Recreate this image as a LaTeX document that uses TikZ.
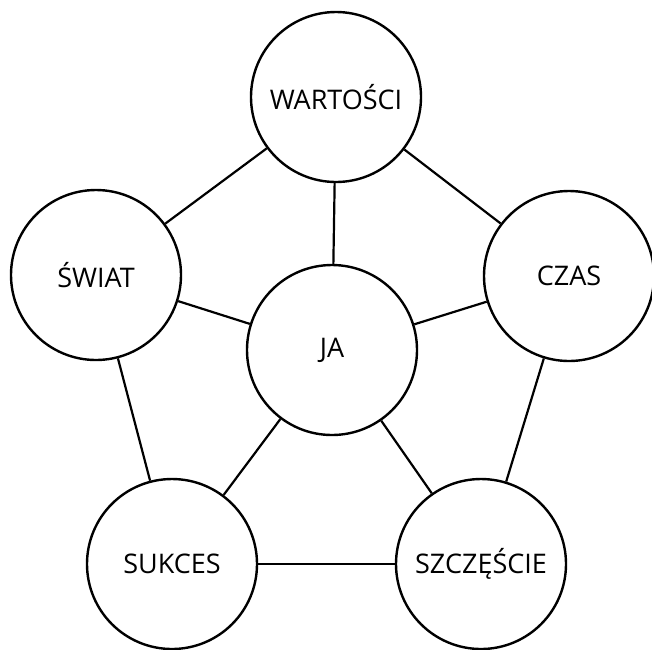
\documentclass[tikz,border=0pt]{standalone}
\usepackage{fontspec}
\setmainfont{Open Sans}
\usepackage{tikz}

\begin{document}
\begin{tikzpicture}[x=1pt, y=-1pt, topic/.style={draw, circle, line width=2.4pt, minimum size=170pt, inner sep=0pt, font=\fontsize{27}{32}\selectfont}, link/.style={line width=2.2pt}]
\useasboundingbox (0,0) rectangle (652,649);
\node[topic] (wartosci) at (336,97) {WARTOŚCI};
\node[topic] (swiat) at (96,275) {ŚWIAT};
\node[topic] (czas) at (569,276) {CZAS};
\node[topic] (ja) at (332,350) {JA};
\node[topic] (sukces) at (172,564) {SUKCES};
\node[topic] (szczescie) at (481,564) {SZCZĘŚCIE};
\draw[link] (wartosci) -- (swiat);
\draw[link] (wartosci) -- (czas);
\draw[link] (wartosci) -- (ja);
\draw[link] (swiat) -- (ja);
\draw[link] (czas) -- (ja);
\draw[link] (swiat) -- (sukces);
\draw[link] (czas) -- (szczescie);
\draw[link] (ja) -- (sukces);
\draw[link] (ja) -- (szczescie);
\draw[link] (sukces) -- (szczescie);
\end{tikzpicture}
\end{document}
